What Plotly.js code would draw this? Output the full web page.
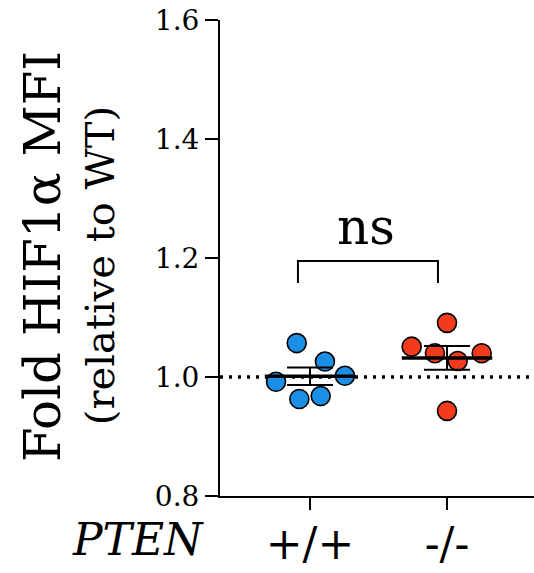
<!DOCTYPE html>
<html>
<head>
<meta charset="utf-8">
<script src="https://cdn.plot.ly/plotly-3.0.1.min.js"></script>
<style>html,body{margin:0;padding:0;background:#fff;}#chart{width:534px;height:573px;}</style>
</head>
<body>
<div id="chart"></div>
<script>
// ---- data ----
const groups = ['+/+', '-/-'];
const wtValues = [1.057, 1.026, 0.992, 1.002, 0.963, 0.968];
const wtJitter = [-0.097, 0.109, -0.248, 0.255, -0.078, 0.078];
const koValues = [1.091, 1.051, 1.040, 1.027, 1.040, 0.943];
const koJitter = [0, -0.258, -0.088, 0.078, 0.253, 0];
const yTicks = [0.8, 1.0, 1.2, 1.4, 1.6];
const sigLabel = 'ns';

const FONT = 'DejaVu Serif';
const blue = '#1b8fe6';
const red = '#f23b1d';
function f(size, extra) { return Object.assign({family: FONT, size: size, color: '#000', weight: 400, style: 'normal', stretch: 'condensed'}, extra || {}); }

function mean(a){ return a.reduce((s,v)=>s+v,0)/a.length; }
function sem(a){ const m=mean(a); const v=a.reduce((s,x)=>s+(x-m)*(x-m),0)/(a.length-1); return Math.sqrt(v)/Math.sqrt(a.length); }

const series = [
  {vals: wtValues, jit: wtJitter, color: blue},
  {vals: koValues, jit: koJitter, color: red}
];

const traces = [];
series.forEach((s, i) => {
  traces.push({
    type: 'scatter', mode: 'markers',
    x: s.jit.map(j => i + j), y: s.vals,
    marker: {size: 19, color: s.color, line: {color: '#000', width: 1.6}},
    hoverinfo: 'y', showlegend: false
  });
});
series.forEach((s, i) => {
  const m = mean(s.vals);
  traces.push({
    type: 'scatter', mode: 'lines',
    x: [i - 0.33, i + 0.33], y: [m, m],
    line: {color: '#000', width: 3.5}, hoverinfo: 'skip', showlegend: false
  });
  traces.push({
    type: 'scatter', mode: 'lines',
    x: [i], y: [m],
    error_y: {type: 'data', array: [sem(s.vals)], visible: true, color: '#000', thickness: 2, width: 23},
    line: {color: '#000', width: 0}, hoverinfo: 'skip', showlegend: false
  });
});

const layout = {
  width: 534, height: 573,
  margin: {l: 220, r: 0, t: 20, b: 77, pad: 0},
  paper_bgcolor: '#fff', plot_bgcolor: '#fff',
  font: f(16),
  showlegend: false,
  xaxis: {
    range: [-0.657, 1.635], fixedrange: true,
    tickmode: 'array', tickvals: [0, 1], ticktext: groups,
    showline: true, linecolor: '#000', linewidth: 2,
    ticks: 'outside', ticklen: 12, tickwidth: 2, tickcolor: '#000',
    tickfont: f(44),
    showgrid: false, zeroline: false, ticklabelstandoff: -4
  },
  yaxis: {
    range: [0.8, 1.6], fixedrange: true,
    tickmode: 'array', tickvals: yTicks, ticktext: yTicks.map(v => v.toFixed(1)),
    showline: true, linecolor: '#000', linewidth: 2,
    ticks: 'outside', ticklen: 13, tickwidth: 2, tickcolor: '#000',
    tickfont: f(28),
    showgrid: false, zeroline: false
  },
  shapes: [
    {type: 'line', xref: 'paper', yref: 'y', x0: 0, x1: 1, y0: 1.0, y1: 1.0,
     line: {color: '#000', width: 3.5, dash: '3px,6px'}, layer: 'below'},
    {type: 'path', xref: 'x', yref: 'y',
     path: 'M -0.088 1.158 L -0.088 1.195 L 0.934 1.195 L 0.934 1.158',
     line: {color: '#000', width: 2}}
  ],
  annotations: [
    {text: sigLabel, xref: 'x', yref: 'y', x: 0.41, y: 1.252, xanchor: 'center', yanchor: 'middle',
     showarrow: false, font: f(50)},
    {text: 'Fold HIF1α MFI', xref: 'paper', yref: 'paper', x: -0.564, y: 0.504, xanchor: 'center', yanchor: 'middle',
     textangle: -90, showarrow: false, font: f(50)},
    {text: '(relative to WT)', xref: 'paper', yref: 'paper', x: -0.382, y: 0.483, xanchor: 'center', yanchor: 'middle',
     textangle: -90, showarrow: false, font: f(40)},
    {text: 'PTEN', xref: 'paper', yref: 'paper', x: -0.261, y: -0.092, xanchor: 'center', yanchor: 'middle',
     showarrow: false, font: f(44, {style: 'italic'})}
  ]
};

Plotly.newPlot('chart', traces, layout, {staticPlot: true, displayModeBar: false});
</script>
</body>
</html>
